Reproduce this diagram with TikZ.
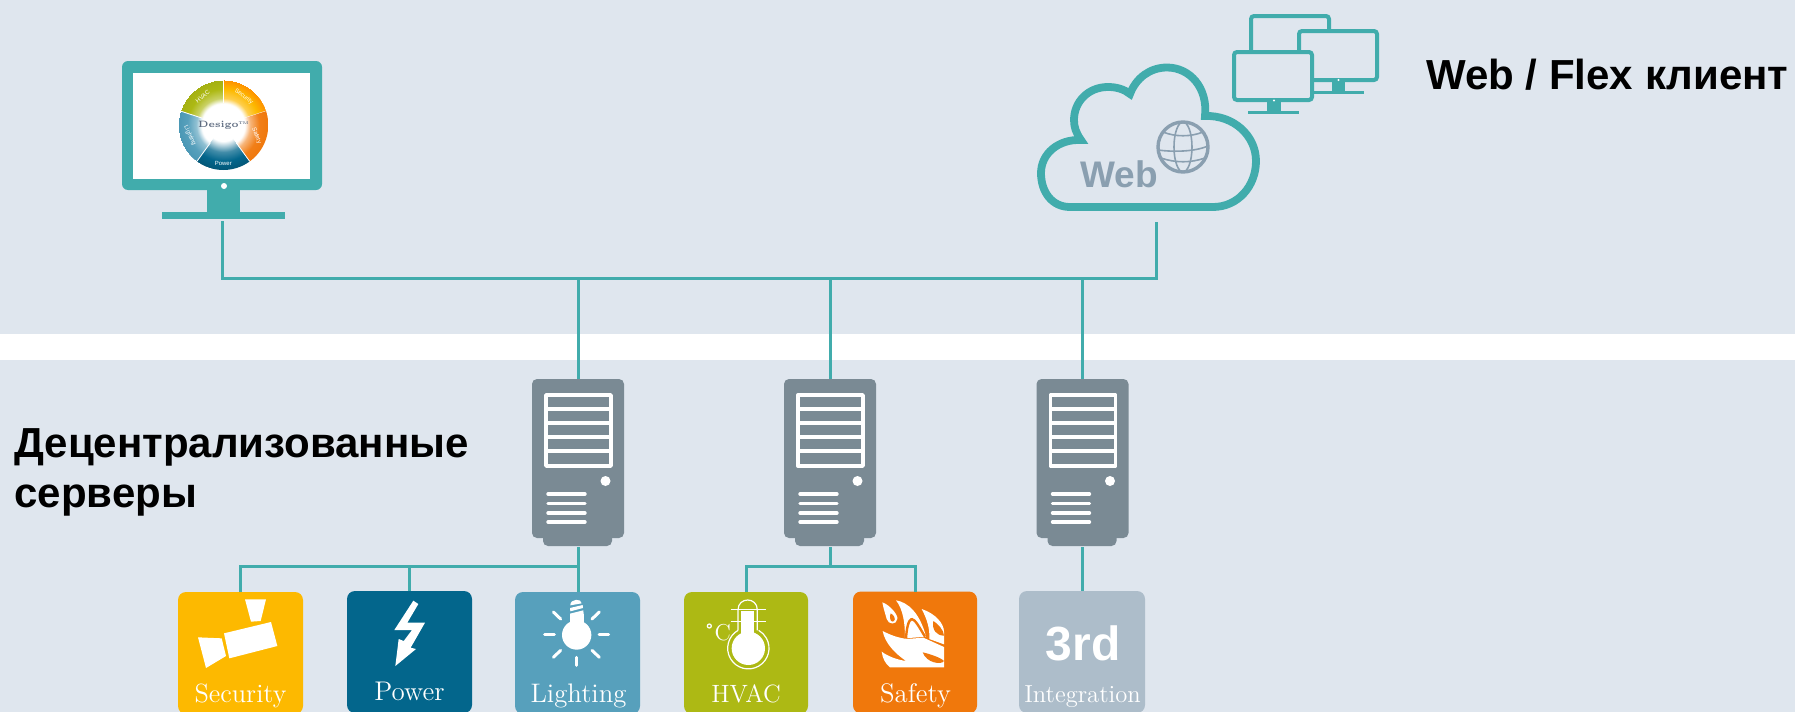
\documentclass[tikz,border=0pt]{standalone}
\usepackage{fontspec}
\newfontfamily\arialf{Liberation Sans}
\definecolor{bandc}{HTML}{DFE6EE}
\definecolor{teal}{HTML}{41ACAC}
\definecolor{srvc}{HTML}{7A8A94}
\definecolor{webc}{HTML}{8A9FB0}
\definecolor{secc}{HTML}{FDB900}
\definecolor{powc}{HTML}{03668C}
\definecolor{ligc}{HTML}{57A0BC}
\definecolor{hvac}{HTML}{ADB914}
\definecolor{safc}{HTML}{F0780C}
\definecolor{thrc}{HTML}{ADBDCA}
\definecolor{dsgc}{HTML}{5E6B80}
\pgfdeclareradialshading{wsec}{\pgfpointorigin}{color(0bp)=(white); color(12bp)=(white); color(15bp)=(secc!70!white); color(20bp)=(secc); color(25bp)=(orange!70!secc)}
\pgfdeclareradialshading{wsaf}{\pgfpointorigin}{color(0bp)=(white); color(12bp)=(white); color(15bp)=(safc!55!white); color(20bp)=(safc!95!white); color(25bp)=(safc)}
\pgfdeclareradialshading{wpow}{\pgfpointorigin}{color(0bp)=(white); color(9bp)=(white); color(15bp)=(powc!75!white); color(20bp)=(powc); color(25bp)=(powc!85!black)}
\pgfdeclareradialshading{wlig}{\pgfpointorigin}{color(0bp)=(white); color(12bp)=(white); color(15bp)=(ligc!65!white); color(20bp)=(ligc); color(25bp)=(ligc!85!powc)}
\pgfdeclareradialshading{whva}{\pgfpointorigin}{color(0bp)=(white); color(12bp)=(white); color(15bp)=(hvac!65!white); color(20bp)=(hvac); color(25bp)=(hvac!95!black)}
\tikzset{
  link/.style={draw=teal,line width=1.5pt},
  tealbox/.style={fill=teal,draw=none},
  tile/.style={draw=none,rounded corners=4pt,minimum width=62.5pt,minimum height=61pt,inner sep=0pt,outer sep=0pt,anchor=north west},
  srvbody/.style={fill=srvc,draw=none,rounded corners=2.5pt,minimum width=46pt,minimum height=79.5pt,inner sep=0pt,outer sep=0pt,anchor=north},
  srvline/.style={draw=white,line width=1.7pt},
  vent/.style={draw=white,line width=1.7pt,line cap=round},
  heading/.style={font=\arialf\bfseries\fontsize{21}{25}\selectfont,text=black,inner sep=0pt,anchor=base west},
  tilelabel/.style={text=white,inner sep=0pt,anchor=base},
  icon/.style={fill=white,draw=none},
  ray/.style={draw=white,line width=1.5pt,line cap=round},
  wheeltext/.style={text=white,inner sep=0pt,font=\arialf\fontsize{3}{3.5}\selectfont},
}
\begin{document}
\begin{tikzpicture}[x=0.5pt,y=-0.5pt]
\useasboundingbox (0,0) rectangle (1795,712);
\fill[bandc] (0,0) rectangle (1795,712);
\fill[white] (0,334) rectangle (1795,360);

% main monitor
\fill[tealbox,rounded corners=3pt] (122,61) rectangle (322,190);
\fill[white] (133,73) rectangle (310,179);
\fill[white] (224,186) circle (3);
\fill[tealbox] (207,190) rectangle (240,212);
\node[tealbox,minimum width=61.5pt,minimum height=3.75pt,inner sep=0pt,outer sep=0pt] (monbase) at (223.5,215.7) {};
% wheel
\foreach \sh/\a/\b in {wsec/18/90,whva/90/162,wlig/162/234,wpow/234/306,wsaf/306/378}{
  \begin{scope}
    \clip (223.3,125) -- ++(\a:45 and -45) arc[start angle=\a,end angle=\b,x radius=45,y radius=-45] -- cycle;
    \shade[shading=\sh] (223.3,125) circle (45);
  \end{scope}
  \draw[white,line width=0.4pt] (223.3,125) ++(\a:22 and -22) -- ++(\a:23 and -23);
}
\path (223.3,125) ++(54:35 and -35) node[wheeltext,rotate=-38] {Security};
\path (223.3,125) ++(126:35 and -35) node[wheeltext,rotate=38] {HVAC};
\path (223.3,125) ++(-18:35 and -35) node[wheeltext,rotate=-70] {Safety};
\path (223.3,125) ++(-90:38 and -38) node[wheeltext] {Power};
\path (223.3,125) ++(198:35 and -35) node[wheeltext,rotate=-65] {Lighting};
\node[inner sep=0pt,text=dsgc,font=\bfseries\fontsize{4.6}{5}\selectfont] at (223.3,125.5) {Desigo\raisebox{1.4pt}{\fontsize{2}{2}\selectfont TM}};

% cloud
\draw[teal,line width=3.9pt,line join=miter]
  (1070,207) -- (1213,207) .. controls (1238,207) and (1256,186) .. (1256,161)
  .. controls (1256,136) and (1234,115) .. (1205,116)
  .. controls (1208,88) and (1190,67.5) .. (1167,67.5)
  .. controls (1150,67.5) and (1136,78) .. (1130,94)
  .. controls (1124,89) and (1116,87) .. (1108,87)
  .. controls (1088,87) and (1074,102) .. (1074,120)
  .. controls (1074,127) and (1076,133) .. (1081,140)
  .. controls (1058,139) and (1041,154) .. (1041,173)
  .. controls (1041,192) and (1052,207) .. (1070,207) -- cycle;
\node[inner sep=0pt,anchor=base west,text=webc,font=\arialf\bfseries\fontsize{18.5}{20}\selectfont] (webtext) at (1080,187) {Web};
% globe
\draw[webc,line width=1.7pt] (1183,147) circle (25);
\draw[webc,line width=0.8pt] (1183,147) circle[x radius=9,y radius=25];
\draw[webc,line width=0.8pt] (1163,132) .. controls (1175,137) and (1191,137) .. (1203,132);
\draw[webc,line width=0.8pt] (1158,150) .. controls (1172,152) and (1194,152) .. (1208,146);
\draw[webc,line width=0.8pt] (1161,158) .. controls (1175,163) and (1191,163) .. (1205,158);

% small monitors
\draw[teal,line width=2pt,rounded corners=1.5pt] (1251,50) |- (1329,16) -- (1329,29);
\fill[tealbox] (1332,82) rectangle (1345,92);
\fill[tealbox] (1314,91) rectangle (1364,94);
\draw[teal,line width=2pt,rounded corners=1.5pt,fill=bandc] (1299,31) rectangle (1377,80);
\fill[white] (1338.5,80) circle (1.2);
\fill[tealbox] (1267,102) rectangle (1281,112);
\fill[tealbox] (1248,111) rectangle (1299,114);
\draw[teal,line width=2pt,rounded corners=1.5pt,fill=bandc] (1234,52) rectangle (1312,100);
\fill[white] (1274,100.5) circle (1.2);

% headings
\node[heading] (webflex) at (1426,90) {Web / Flex клиент};
\node[heading] (dec1) at (14,457) {Децентрализованные};
\node[heading] (dec2) at (14,507) {серверы};

% servers
\foreach \s/\x in {a/578,b/830,c/1082.5}{
  \begin{scope}[shift={(\x,0)}]
    \fill[srvc,rounded corners=2.5pt] (-35,520) rectangle (34,546);
    \node[srvbody] (srv\s) at (0,379) {};
    \draw[srvline,line join=round] (-32,395) rectangle (33,466);
    \foreach \yy in {409,423,437,451}{\draw[srvline] (-32,\yy) -- (33,\yy);}
    \fill[white] (27.5,481) circle (5);
    \foreach \yy in {494,503.5,513,522}{\draw[vent] (-30,\yy) -- (7,\yy);}
  \end{scope}
}
\node[inner sep=0pt,outer sep=0pt] (srvafoot) at (578,546) {};
\node[inner sep=0pt,outer sep=0pt] (srvbfoot) at (830,546) {};
\node[inner sep=0pt,outer sep=0pt] (srvcfoot) at (1082.5,546) {};

% tiles
\node[tile,fill=secc] (tsec) at (178,592) {};
\node[tile,fill=powc] (tpow) at (347,591) {};
\node[tile,fill=ligc] (tlig) at (515,592) {};
\node[tile,fill=hvac,minimum width=62pt] (thva) at (684,592) {};
\node[tile,fill=safc,minimum width=62pt] (tsaf) at (853,591.5) {};
\node[tile,fill=thrc,minimum width=63pt] (tthr) at (1019,591) {};

\node[tilelabel,font=\fontsize{13.2}{15}\selectfont] (lsec) at (240.5,702) {Security};
\node[tilelabel,font=\fontsize{13.5}{15}\selectfont] (lpow) at (409.5,700) {Power};
\node[tilelabel,font=\fontsize{13.4}{15}\selectfont] (llig) at (578.5,702) {Lighting};
\node[tilelabel,font=\fontsize{12.5}{15}\selectfont] (lhva) at (746,702) {HVAC};
\node[tilelabel,font=\fontsize{13.4}{15}\selectfont] (lsaf) at (915.5,702) {Safety};
\node[tilelabel,font=\fontsize{12.3}{15}\selectfont] (lthr) at (1082.5,702) {Integration};
\node[inner sep=0pt,anchor=base,text=white,font=\arialf\bfseries\fontsize{24}{26}\selectfont] (l3rd) at (1083,660) {3rd};

% security icon
\begin{scope}[shift={(170,580)},x=0.16667pt,y=-0.16667pt]
  \fill[icon] (225,58) -- (288,58) -- (272,123) -- (243,125) -- cycle;
  \fill[icon] (162,160) -- (303,126) -- (322,198) -- (178,235) -- cycle;
  \fill[icon] (84,172) -- (155,175) -- (168,228) -- (108,264) -- cycle;
  % power icon
  \fill[icon] (730,62) -- (745,72) -- (712,128) -- (765,128) -- (722,203) -- (738,207) -- (676,258) -- (686,177) -- (701,183) -- (726,150) -- (673,150) -- cycle;
  % lighting icon
  \fill[icon] (1220,165) circle (44);
  \fill[icon] (1199,102) -- (1241,102) -- (1241,140) -- (1199,140) -- cycle;
  \fill[icon] (1201,76) .. controls (1200,55) and (1236,55) .. (1235,70) -- cycle;
  \fill[icon] (1200,84) -- (1238,75) -- (1239,84) -- (1201,94) -- cycle;
  \fill[icon] (1200,101) -- (1240,91) -- (1241,104) -- (1200,104) -- cycle;
  \draw[ray] (1124,164) -- (1153,164);
  \draw[ray] (1287,164) -- (1316,164);
  \draw[ray] (1218,232) -- (1218,256);
  \draw[ray] (1150,96) -- (1172,117);
  \draw[ray] (1288,96) -- (1266,117);
  \draw[ray] (1150,232) -- (1172,211);
  \draw[ray] (1288,232) -- (1266,211);
\end{scope}

% hvac icon
\begin{scope}[shift={(670,580)},x=0.16667pt,y=-0.16667pt]
  \fill[icon] (235,205) circle (50);
  \fill[icon] (214,92) rectangle (252,185);
  \draw[white,line width=0.6pt] (204,151) -- (204,90) .. controls (204,50) and (262,50) .. (262,90) -- (262,151);
  \draw[white,line width=0.6pt] (204,151) arc[start angle=120,end angle=420,x radius=62,y radius=-62];
  \draw[white,line width=0.6pt] (182,88) -- (287,88);
  \draw[white,line width=0.6pt] (182,124) -- (287,124);
  \draw[white,line width=0.6pt] (118,138) circle (6);
  \node[inner sep=0pt,anchor=base,text=white,font=\fontsize{11.5}{12}\selectfont] (cdeg) at (158,180) {C};
\end{scope}

% safety icon
\begin{scope}[shift={(870,595)},x=0.16667pt,y=-0.16667pt]
  \fill[icon] (37,22) .. controls (60,30) and (85,60) .. (82,72) .. controls (80,90) and (55,90) .. (50,72) .. controls (47,60) and (40,40) .. cycle;
  \fill[safc] (62,55) .. controls (72,60) and (78,72) .. (72,78) .. controls (65,84) and (56,75) .. (62,55);
  \fill[icon] (78,16) .. controls (115,22) and (150,55) .. (168,125) -- (105,130) .. controls (105,85) and (100,45) .. cycle;
  \draw[safc,line width=1.2pt,line join=round] (108,130) .. controls (110,100) and (115,75) .. (125,72) .. controls (135,72) and (150,100) .. (165,125);
  \fill[icon] (155,42) .. controls (195,55) and (222,85) .. (222,110) -- (222,148) -- (178,132) .. controls (180,100) and (170,70) .. cycle;
  \fill[safc] (190,78) .. controls (202,85) and (222,105) .. (222,122) .. controls (200,122) and (185,105) .. cycle;
  \fill[icon] (38,108) .. controls (65,122) and (85,128) .. (110,132) -- (160,128) -- (222,156) -- (222,217) -- (60,217) .. controls (45,205) and (38,190) .. (35,170) .. controls (55,185) and (85,195) .. (108,198) .. controls (75,175) and (45,145) .. cycle;
  \fill[safc] (158,172) .. controls (185,178) and (215,190) .. (222,198) .. controls (215,210) and (170,205) .. cycle;
\end{scope}

% connectors
\coordinate (monend) at (222,221);
\coordinate (cloudend) at (1156,222);
\coordinate (bus) at (578,278);
\draw[link] (monend) |- (cloudend |- bus) -- (cloudend);
\draw[link] (srva.north) -- (srva.north |- bus);
\draw[link] (srvb.north) -- (srvb.north |- bus);
\draw[link] (srvc.north) -- (srvc.north |- bus);
\coordinate (lowbus) at (578,566);
\coordinate (lowbusb) at (830,566);
\draw[link] (srvafoot) -- (tlig.north -| srvafoot);
\draw[link] (tsec.north) -- (tsec.north |- lowbus) -- (lowbus);
\draw[link] (tpow.north) -- (tpow.north |- lowbus);
\draw[link] (srvbfoot) -- (lowbusb);
\draw[link] (thva.north) |- (tsaf.north |- lowbusb) -- (tsaf.north);
\draw[link] (srvcfoot) -- (tthr.north -| srvcfoot);
\end{tikzpicture}
\end{document}
